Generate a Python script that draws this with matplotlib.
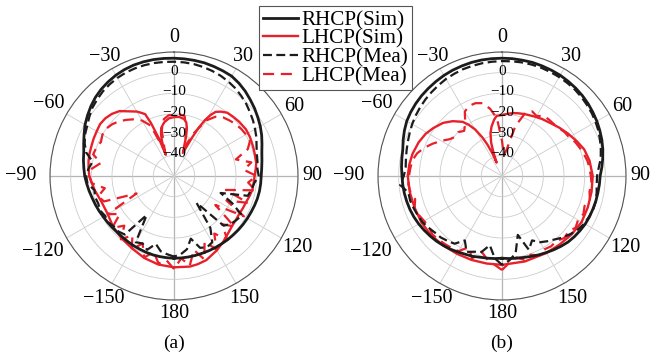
import numpy as np
import matplotlib
matplotlib.use("Agg")
import matplotlib.pyplot as plt

plt.rcParams['font.family'] = ['Liberation Serif', 'DejaVu Serif']

# ---- data (angle in deg, gain in dBic) ----
ang5 = list(range(-180, 181, 5))

# (a) simulated RHCP, every 5 deg
a_rs_val = [-10.2, -10.3, -10.4, -10.5, -10.7, -10.9, -11.0, -11.2, -11.3, -11.3, -11.1, -10.8,
            -10.5, -10.0, -9.5, -9.0, -8.3, -7.6, -6.8, -6.2, -5.5, -4.8, -3.5, -2.0, -0.3, 1.1,
            2.5, 3.8, 4.8, 5.6, 6.3, 6.8, 7.1, 7.2, 7.2, 7.1,
            7.0,
            6.9, 6.8, 6.7, 6.4, 6.1, 5.8, 4.8, 3.6, 2.2, 0.9, -0.5, -1.8, -3.2, -4.7, -6.0, -6.8,
            -7.4, -7.8, -7.9, -8.0, -8.2, -8.5, -8.8, -9.0, -9.2, -9.4, -9.6, -9.7, -9.9, -10.0,
            -10.1, -10.2, -10.2, -10.2, -10.2, -10.2]

# (a) simulated LHCP
a_ls_ang = [-180, -170, -160, -150, -140, -130, -120, -110, -100, -90, -85, -80, -75, -70, -65,
            -60, -55, -50, -45, -40, -35, -30, -27, -25, -23.5, -22, -21, -20, -19, -17, -15,
            -12, -10, -5, 0, 5, 10, 13, 15, 17, 19, 21, 23, 25, 27, 29, 31, 33, 36, 40, 45, 50,
            57, 63, 70, 75, 81, 85, 90, 95, 100, 105, 110, 115, 120, 125, 130, 137, 143, 150,
            159, 165, 170, 180]
a_ls_val = [-5.8, -6.5, -7.8, -9.5, -10.6, -11.6, -13, -12.8, -11, -9, -8.5, -8, -7.7, -7.5, -7.1,
            -6.8, -6.3, -6.6, -7.5, -9, -11.8, -14, -15.8, -17, -22, -30, -39, -35, -32, -28.5, -26,
            -24.5, -23.5, -22, -21.5, -21.3, -22, -23.5, -26, -30, -35, -38, -35, -30, -24, -19, -15.5, -13, -11.5, -10, -9.5, -9,
            -8.5, -8.7, -9.2, -9.5, -9.7, -10.3, -11, -11.3, -11.5, -12.2, -12.9, -13.2, -13.5, -13.3, -13, -11.8, -10.3, -8.5,
            -6.4, -5.8, -5.5, -5.8]

# (a) measured RHCP / LHCP, every 5 deg
a_rm_val = [-11, -12, -13, -16, -12, -14, -13, -27, -13, -12, -12, -11, -11.5, -10.5, -11, -10.5, -10.9, -8, -7.5,
            -8.5, -10, -6, -4, -2.5, -1.5, 0, 1.5, 2.5, 3.5, 4.2, 4.8, 5.2, 5.4, 5.5, 5.5, 5.4,
            5.3,
            5.2, 5, 4.6, 4.1, 3.5, 2.7, 1.8, 0.6, -0.6, -2, -3.3, -4.7, -6, -7.5, -8.5, -9, -9.5, -9,
            -11, -12, -13, -26, -19, -12, -13, -14, -16, -33, -19.3, -13, -12, -13, -18.6, -14, -12, -11]

a_lm_val = [-5, -9, -7, -12, -8, -14, -9, -15, -10, -16, -11, -18, -13, -30, -14, -12, -16, -10, -9,
            -10, -14, -9.5, -10, -11, -10, -10, -11, -12.5, -14.5, -16.5, -19, -23, -37, -27, -22, -20.5,
            -20.5,
            -20, -20.5, -27, -35, -27, -19, -15, -13, -12, -11, -10.3, -9.8, -9.4, -12, -19, -12, -16, -10,
            -14, -10, -24, -12, -22, -11, -25.6, -12, -17, -10, -16, -9, -15, -7, -13, -6, -10, -5]

# (b) simulated RHCP, every 5 deg
b_rs_val = [-10.2, -9.9, -9.6, -9.3, -8.6, -8.2, -7.5, -6.7, -6.0, -5.3, -4.7, -4.1,
            -3.5, -3.0, -2.6, -2.3, -2.0, -1.8, -1.6, -1.2, -0.8, -0.3, 0.9, 2.1, 3.2, 3.9,
            4.5, 5.0, 5.4, 5.8, 6.2, 6.5, 6.7, 6.9, 7.0, 7.0,
            7.0,
            7.0, 6.9, 6.9, 6.7, 6.5, 6.3, 5.9, 5.5, 5.0, 4.4, 3.7, 3.0, 2.2, 1.4, 0.5, -0.5,
            -1.5, -2.5, -2.7, -2.9, -3.0, -3.2, -3.3, -3.5, -3.9, -4.3, -4.8, -5.6, -6.4, -7.2,
            -7.9, -8.6, -9.2, -9.6, -9.9, -10.2]

# (b) simulated LHCP
b_ls_ang = [-180, -170, -160, -150, -140, -130, -120, -110, -100, -90, -83, -76, -68, -61, -55,
            -48, -42, -36, -33, -30, -27, -25, -23, -22, -20, -18, -15, -12, -8, -5, 0, 5, 10,
            14, 20, 28, 35, 43, 50, 57, 65, 72, 80, 90, 100, 110, 120, 130, 140, 150, 165, 180]
b_ls_val = [-7, -7, -6.8, -6.5, -6, -5.3, -5, -5, -4.7, -4.4, -4.8, -5.4, -6.5, -7.8, -9.5,
            -11.6, -14.3, -17.6, -20.5, -24, -29, -33, -38, -43, -38, -33, -28.5, -25.6, -22.5, -20.8, -20.5, -19.8, -19.1,
            -18.7, -18.1, -17.3, -16.3, -15.2, -13.7, -12.1, -10.1, -8.2, -7, -6.1, -6, -5.8, -5.5, -6, -6.7, -7, -7.2, -7]

# (b) measured RHCP / LHCP, every 5 deg
b_rm_val = [-7, -10, -16, -12, -11, -9.5, -14, -10, -9, -8, -7.5, -6.5, -5.5, -5, -4.5, -4, -4, -0.5, -2.5,
            -3.2, -2.8, -2.2, -1.5, -0.7, 0.2, 1, 1.7, 2.4, 3, 3.6, 4.2, 4.6, 5, 5.2, 5.4, 5.5,
            5.6,
            5.7, 5.8, 5.8, 5.7, 5.5, 5.3, 5, 4.7, 4.2, 3.6, 3, 2.3, 1.5, 0.5, -0.5, -1.5, -3, -4,
            -4, -3.5, -3, -3, -3.5, -4, -5, -6.5, -8, -10, -11.5, -13, -15.6, -12, -20.5, -12, -9, -7]

b_lm_val = [-4.5, -7, -9, -12, -7.5, -12, -8, -7.5, -7, -6.5, -6, -7, -6.5, -5.5, -5, -6.5, -5, -4.5, -5,
            -5.5, -6, -7.5, -10, -13, -16, -19, -20.5, -20, -21.5, -19, -14, -12.5, -12.5, -13.5, -17, -22,
            -33,
            -40, -37, -25, -18, -15.5, -16.5, -14.5, -14.5, -14.5, -14, -13, -12.5, -11, -10, -9, -8, -7.5, -7,
            -6.5, -7, -6, -7.5, -6.5, -7.5, -6.5, -8, -7.5, -9, -8.5, -9, -7.5, -9.5, -8, -10, -8, -4.5]

theta_ticks = [0, 30, 60, 90, 120, 150, 180, -150, -120, -90, -60, -30]
r_ticks = [-40, -30, -20, -10, 0, 10]

BLACK = '#1c1c1c'
RED = '#e8202a'
PX = 60 / 124.0          # dB per pixel of radius
# extra outward shift (px) of the angle labels, as in the reference
lab_shift = {0: 0, 30: 0, 60: 1, 90: 0, 120: 5, 150: 3, 180: 0,
             -150: 3, -120: 13, -90: 15, -60: 7, -30: 0}


def minus(s):
    return str(s).replace('-', '\u2212')


fig = plt.figure(figsize=(6.62, 3.56), dpi=100)


def make_polar(rect, rs, ls, rm, lm, tag):
    ax = fig.add_axes(rect, projection='polar')
    ax.set_theta_zero_location('N')
    ax.set_theta_direction(-1)
    ax.set_rlim(-50, 10)
    ax.set_rticks(r_ticks)
    ax.set_yticklabels([])
    ax.set_thetagrids(range(0, 360, 30))
    ax.set_xticklabels([])
    ax.tick_params(axis='x', length=0)
    ax.grid(color='#cccccc', lw=0.6)
    for t in [0, 90, 180, 270]:
        ax.axvline(np.deg2rad(t), color='#444444', lw=0.8, zorder=1.5)
    ax.spines['polar'].set_color('#555555')
    ax.spines['polar'].set_linewidth(0.8)

    l1, = ax.plot(np.deg2rad(rs[0]), rs[1], color=BLACK, lw=2.0, label='RHCP(Sim)', zorder=4)
    l2, = ax.plot(np.deg2rad(ls[0]), ls[1], color=RED, lw=1.7, label='LHCP(Sim)', zorder=3)
    l3, = ax.plot(np.deg2rad(ang5), rm, color=BLACK, lw=1.6, ls=(0, (4, 2)), label='RHCP(Mea)', zorder=3.5)
    l4, = ax.plot(np.deg2rad(ang5), lm, color=RED, lw=1.6, ls=(0, (5, 3)), label='LHCP(Mea)', zorder=3.2)

    for t in theta_ticks:
        r_lab = 10 + (138 - 124 + lab_shift[t]) * PX
        ax.text(np.deg2rad(t), r_lab, minus(t), ha='center', va='center', fontsize=14.5)

    for v in r_ticks[:-1]:
        ax.text(0, v + 0.8, minus(v), ha='center', va='center', fontsize=11, zorder=5)
    ax.annotate('10 dBic', xy=(0, 10.9), xytext=(-10, 0), textcoords='offset points',
                ha='left', va='center', fontsize=11, zorder=5)
    ax.text(0.5, -0.175, tag, transform=ax.transAxes, ha='center', va='center', fontsize=14)
    return [l1, l2, l3, l4]


W, H = 662.0, 356.0
handles = make_polar([50 / W, 56 / H, 248 / W, 248 / H],
                     (ang5, a_rs_val), (a_ls_ang, a_ls_val), a_rm_val, a_lm_val, '(a)')
make_polar([378 / W, 56 / H, 248 / W, 248 / H],
           (ang5, b_rs_val), (b_ls_ang, b_ls_val), b_rm_val, b_lm_val, '(b)')

leg = fig.legend(handles=handles, loc='upper left', bbox_to_anchor=(259 / W, 1 - 6 / H),
                 fontsize=15.2, frameon=True, fancybox=False, framealpha=1,
                 handlelength=1.65, handletextpad=0.15, borderpad=0.2, labelspacing=-0.05,
                 borderaxespad=0)
leg.get_frame().set_edgecolor('#555555')
leg.get_frame().set_linewidth(0.8)

fig.savefig('out.png', dpi=100)
